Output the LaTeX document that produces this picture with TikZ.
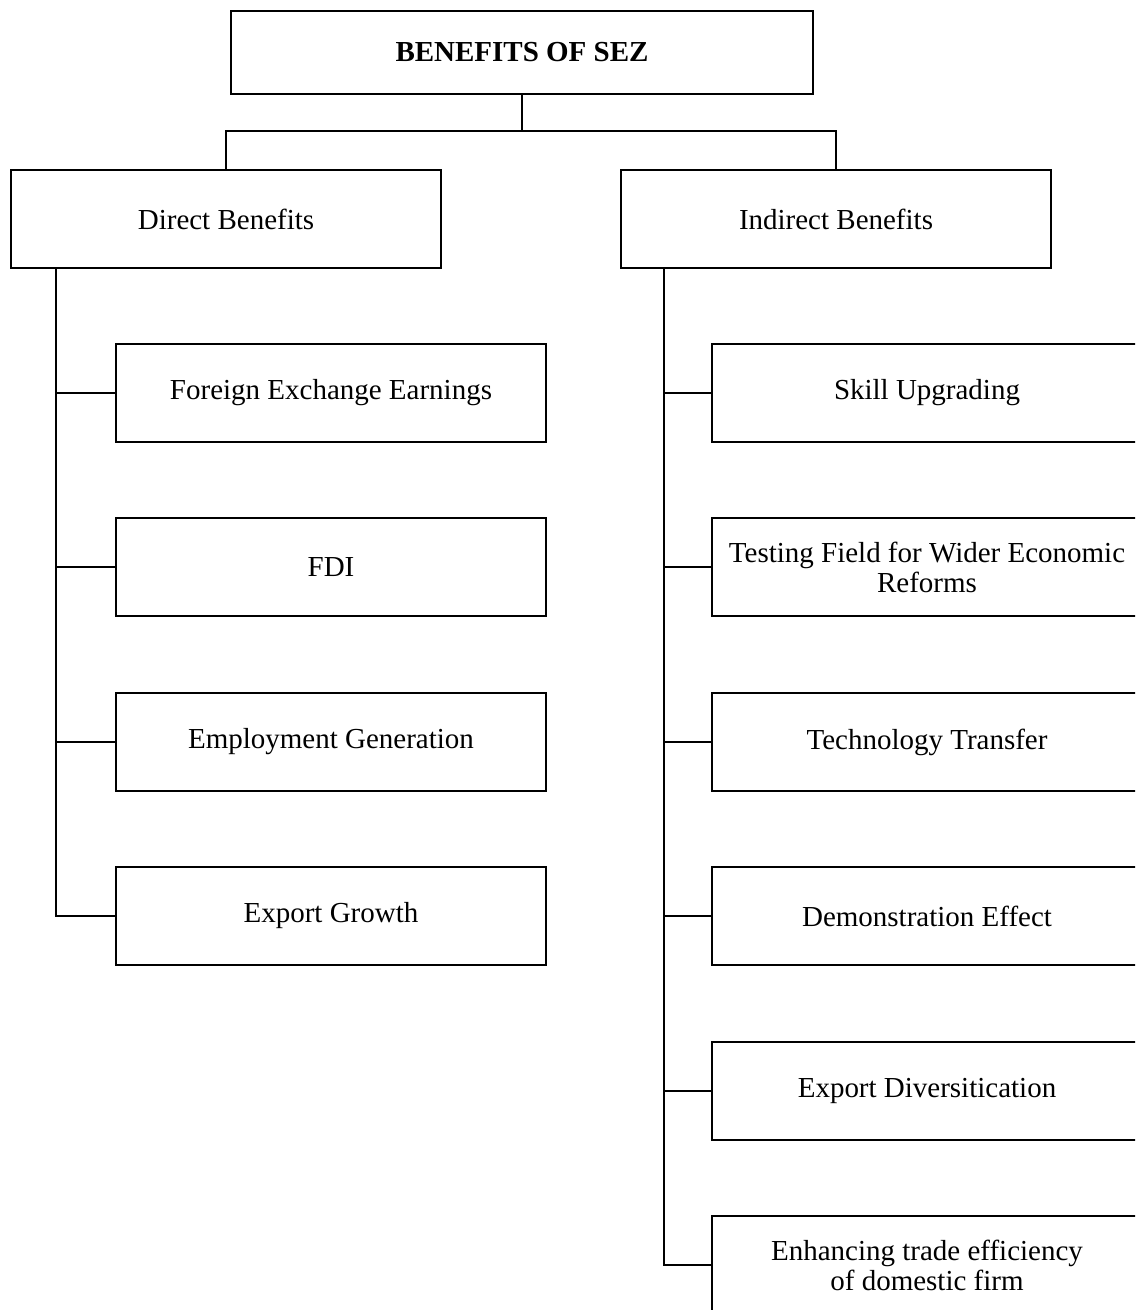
\documentclass[tikz,border=0pt]{standalone}
\usepackage{fontspec}
\setmainfont{Liberation Serif}
\usepackage{tikz}

\begin{document}
\begin{tikzpicture}[x=0.02cm,y=-0.02cm,line cap=rect,
  box/.style={draw,line width=1.1pt,minimum width=8.6cm,minimum height=1.96cm,
    align=center,inner sep=0pt,font=\fontsize{16.5}{17}\selectfont},
  link/.style={line width=1.1pt}]
\path[use as bounding box,fill=white] (0,0) rectangle (1135,1310);
\clip (0,0) rectangle (1135,1310);
% head
\node[box,minimum width=11.64cm,minimum height=1.66cm,font=\bfseries\fontsize{16.5}{17}\selectfont] (sez) at (522,52.5) {BENEFITS OF SEZ};
\node[box] (dir) at (226,219) {Direct Benefits};
\node[box] (ind) at (836,219) {Indirect Benefits};
\coordinate (fork) at (522,131);
\draw[link] (sez.south) -- (fork);
\draw[link] (dir.north) |- (fork) -| (ind.north);
% direct side
\node[box] (d1) at (331,393) {Foreign Exchange Earnings};
\node[box] (d2) at (331,567) {FDI};
\node[box] (d3) at (331,742) {Employment Generation};
\node[box] (d4) at (331,916) {Export Growth};
\coordinate (lsp) at (56,268);
\draw[link] (lsp) |- (d4.west);
\foreach \n in {d1,d2,d3}
  \draw[link] (\n.west) -- (\n.west -| lsp);
% indirect side
\node[box] (i1) at (927,393) {Skill Upgrading};
\node[box] (i2) at (927,567) {Testing Field for Wider Economic\\Reforms};
\node[box] (i3) at (927,742) {Technology Transfer};
\node[box] (i4) at (927,916) {Demonstration Effect};
\node[box] (i5) at (927,1091) {Export Diversitication};
\node[box] (i6) at (927,1265) {Enhancing trade efficiency\\of domestic firm};
\coordinate (rsp) at (664,268);
\draw[link] (rsp) |- (i6.west);
\foreach \n in {i1,i2,i3,i4,i5}
  \draw[link] (\n.west) -- (\n.west -| rsp);
\end{tikzpicture}
\end{document}
